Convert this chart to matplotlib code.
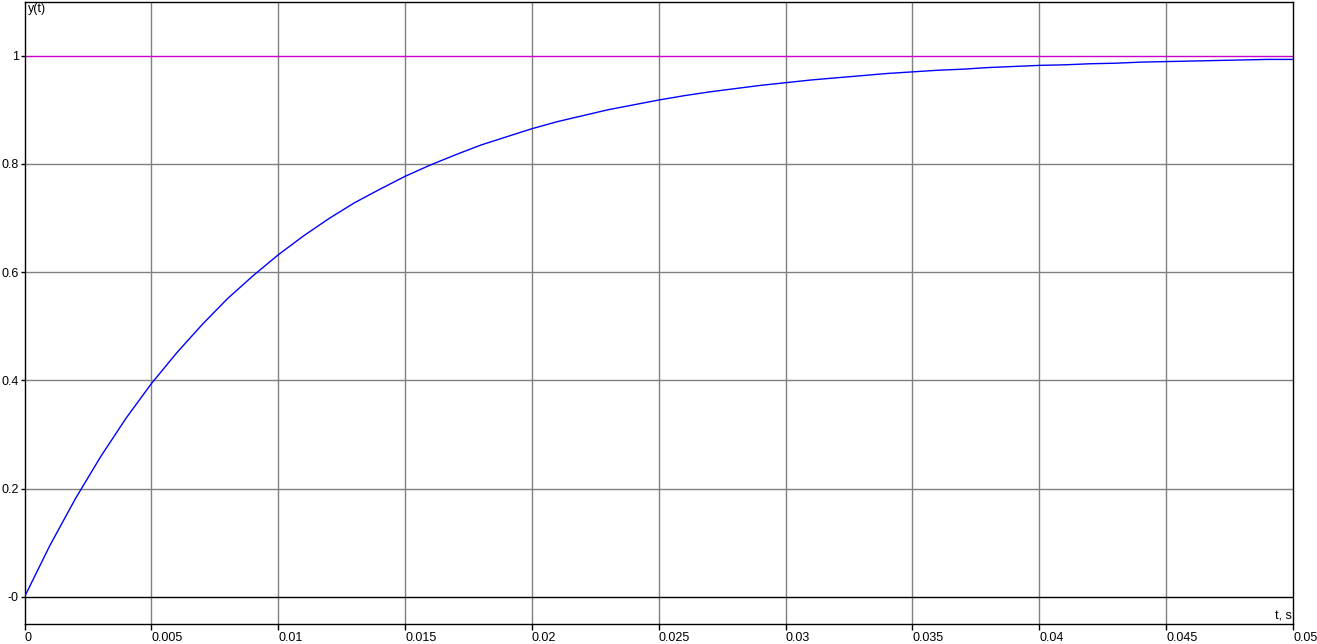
import numpy as np
import matplotlib
matplotlib.use('Agg')
import matplotlib.pyplot as plt

plt.rcParams['font.family'] = ['Liberation Sans', 'DejaVu Sans']

# step response
t = np.arange(0, 51) * 0.001
y = [0.000, 0.095, 0.181, 0.259, 0.330, 0.394, 0.451, 0.503, 0.551, 0.593,
     0.632, 0.667, 0.699, 0.728, 0.753, 0.777, 0.798, 0.817, 0.835, 0.850,
     0.865, 0.878, 0.889, 0.900, 0.909, 0.918, 0.926, 0.933, 0.939, 0.945,
     0.950, 0.955, 0.959, 0.963, 0.967, 0.970, 0.973, 0.975, 0.978, 0.980,
     0.982, 0.983, 0.985, 0.986, 0.988, 0.989, 0.990, 0.991, 0.992, 0.993,
     0.993]

xticks = [0, 0.005, 0.01, 0.015, 0.02, 0.025, 0.03, 0.035, 0.04, 0.045, 0.05]
xlabels = ['0', '0.005', '0.01', '0.015', '0.02', '0.025', '0.03', '0.035', '0.04', '0.045', '0.05']
yticks = [0, 0.2, 0.4, 0.6, 0.8, 1]
ylabels = ['-0', '0.2', '0.4', '0.6', '0.8', '1']

W, H = 1317, 644
fig = plt.figure(figsize=(W/100, H/100), dpi=100)
fig.patch.set_facecolor('white')
ax = fig.add_axes([24.5/W, 1 - 624/H, (1293 - 24.5)/W, (624 - 1.5)/H])

fs = 9

ax.set_xlim(0, 0.05)
ax.set_ylim(-0.05, 1.1)

for xv in xticks[1:-1]:
    ax.axvline(xv, color='#808080', lw=1, zorder=1)
for yv in yticks[1:-1]:
    ax.axhline(yv, color='#808080', lw=1, zorder=1)
ax.axhline(0, color='black', lw=1, zorder=2)
ax.axhline(1, color='#cc00cc', lw=1, zorder=2)

ax.plot(t, y, color='#0000ff', lw=1, zorder=3)

ax.set_xticks(xticks)
ax.set_xticklabels(xlabels, fontsize=fs, ha='left')
ax.set_yticks(yticks)
ax.set_yticklabels(ylabels, fontsize=fs)
ax.tick_params(axis='x', direction='out', length=4, width=1, pad=2)
ax.tick_params(axis='y', direction='out', length=3, width=1, pad=1)
for s in ax.spines.values():
    s.set_linewidth(1)
    s.set_color('black')

ax.text(0.00012, 1.097, 'y(t)', fontsize=fs, ha='left', va='top')
ax.text(0.04995, -0.047, 't, s', fontsize=fs, ha='right', va='bottom')

fig.savefig('out.png', dpi=100)
